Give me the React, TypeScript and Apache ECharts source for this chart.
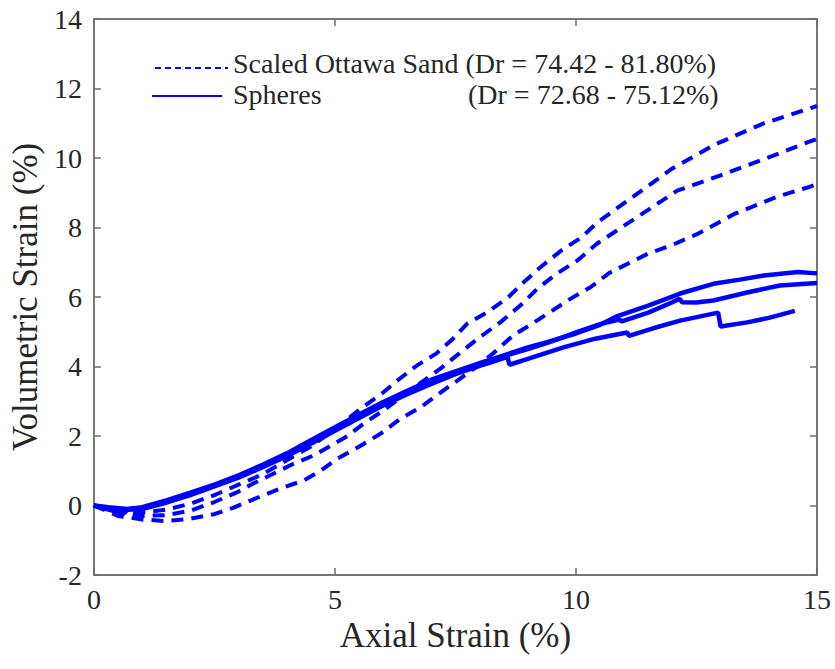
import React, { useEffect, useRef } from "react";
import * as echarts from "echarts";

const xTicks = [0, 5, 10, 15];
const yTicks = [-2, 0, 2, 4, 6, 8, 10, 12, 14];

const legendSand = "Scaled Ottawa Sand (Dr = 74.42 - 81.80%)";
const legendSpheres = "Spheres";
const legendSpheresDr = "(Dr = 72.68 - 75.12%)";

// Scaled Ottawa Sand (dashed)
const sand1: [number, number][] = [
  [0, 0], [0.5, -0.15], [1, -0.2], [1.5, -0.12], [2, 0.05], [2.5, 0.3], [3, 0.6], [3.5, 0.9],
  [4, 1.3], [4.5, 1.7], [5, 2.2], [5.5, 2.75], [6, 3.25], [6.3, 3.6], [6.7, 4.03], [7.1, 4.37],
  [7.45, 4.8], [7.75, 5.24], [8.15, 5.55], [8.6, 6.0], [8.95, 6.47], [9.3, 6.9], [9.7, 7.34],
  [10.1, 7.7], [10.45, 8.15], [11.2, 8.9], [12, 9.7], [12.9, 10.4], [13.9, 11.0], [14.9, 11.45], [15, 11.5],
];
const sand2: [number, number][] = [
  [0, 0], [0.5, -0.2], [1, -0.3], [1.5, -0.28], [2, -0.15], [2.5, 0.1], [3, 0.4], [3.3, 0.63],
  [3.73, 0.92], [4.14, 1.2], [4.56, 1.44], [5.26, 2.0], [5.6, 2.36], [6.0, 2.73], [6.8, 3.55],
  [7.2, 3.95], [7.6, 4.4], [8.0, 4.84], [8.43, 5.27], [8.85, 5.76], [9.2, 6.24], [9.6, 6.67],
  [10.03, 7.05], [10.44, 7.54], [11.27, 8.3], [12.1, 9.06], [13.0, 9.5], [13.96, 10.0], [14.9, 10.5], [15, 10.55],
];
const sand3: [number, number][] = [
  [0, 0], [0.5, -0.3], [1, -0.4], [1.5, -0.45], [2, -0.38], [2.5, -0.25], [2.9, -0.06], [3.4, 0.23],
  [3.87, 0.49], [4.35, 0.72], [4.7, 1.0], [5.05, 1.35], [5.47, 1.67], [5.95, 2.07], [6.36, 2.5],
  [6.77, 2.82], [7.19, 3.25], [7.9, 3.95], [8.3, 4.4], [8.7, 4.9], [9.1, 5.24], [9.5, 5.6],
  [9.9, 5.96], [10.3, 6.28], [10.7, 6.7], [11.5, 7.25], [12, 7.5], [12.5, 7.8], [13.3, 8.4],
  [14.2, 8.9], [14.8, 9.15], [15, 9.25],
];

// Spheres (solid)
const sphere1: [number, number][] = [
  [0, 0], [0.3, -0.05], [0.7, -0.1], [1, -0.05], [1.5, 0.15], [2, 0.37], [2.5, 0.6], [3, 0.87],
  [3.5, 1.17], [4, 1.5], [4.5, 1.88], [5, 2.25], [5.5, 2.62], [6, 2.98], [6.5, 3.3], [7, 3.62],
  [7.5, 3.86], [8, 4.1], [8.5, 4.32], [9, 4.55], [9.4, 4.7], [10, 4.95], [10.5, 5.2], [10.86, 5.45],
  [11.5, 5.75], [12.16, 6.1], [12.85, 6.38], [13.4, 6.5], [13.9, 6.62], [14.6, 6.72], [15, 6.68],
];
const sphere2: [number, number][] = [
  [0, 0], [0.5, -0.12], [1, -0.08], [1.5, 0.1], [2, 0.33], [2.5, 0.57], [3, 0.83], [3.5, 1.12],
  [4, 1.45], [4.5, 1.82], [5, 2.2], [5.5, 2.57], [6, 2.92], [6.5, 3.25], [7, 3.55], [7.5, 3.82],
  [8, 4.05], [8.5, 4.3], [9, 4.5], [9.5, 4.72], [10, 4.98], [10.5, 5.22], [10.9, 5.35], [10.95, 5.3],
  [11.5, 5.55], [12, 5.85], [12.15, 5.95], [12.2, 5.85], [12.5, 5.84], [12.85, 5.9], [13.55, 6.13],
  [14.23, 6.33], [15, 6.4],
];
const sphere3: [number, number][] = [
  [0, 0], [0.4, -0.15], [0.6, -0.25], [0.7, -0.12], [1, -0.1], [1.5, 0.08], [2, 0.3], [2.5, 0.55],
  [3, 0.8], [3.5, 1.1], [4, 1.42], [4.5, 1.78], [5, 2.15], [5.5, 2.52], [6, 2.88], [6.5, 3.2],
  [7, 3.5], [7.5, 3.78], [8, 4.02], [8.3, 4.15], [8.58, 4.28], [8.62, 4.05], [9, 4.22], [9.74, 4.55],
  [10.4, 4.8], [11.06, 4.98], [11.1, 4.88], [11.6, 5.1], [12.16, 5.32], [12.95, 5.55], [13.0, 5.15],
  [13.55, 5.27], [14, 5.4], [14.54, 5.6],
];

const sandSeries = [sand1, sand2, sand3];
const sphereSeries = [sphere1, sphere2, sphere3];

const BLUE = "#0000ff";
const AXIS_GREY = "#6e6e6e";
const TEXT = "#262626";
const FONT = "Liberation Serif";

export default function App() {
  const ref = useRef<HTMLDivElement>(null);

  useEffect(() => {
    if (!ref.current) return;
    const chart = echarts.init(ref.current, undefined, { renderer: "svg" });

    const series: any[] = [];
    sandSeries.forEach((d, i) => {
      const s: any = {
        name: "sand" + (i + 1),
        type: "line",
        data: d,
        showSymbol: false,
        lineStyle: { color: BLUE, width: 4, type: [12, 8] },
      };
      if (i === 0) {
        s.markLine = {
          silent: true,
          symbol: ["none", "none"],
          label: { show: false },
          lineStyle: { color: BLUE, width: 2, type: [6, 4] },
          data: [[{ x: 155, y: 68 }, { x: 228, y: 68 }]],
        };
      }
      series.push(s);
    });
    sphereSeries.forEach((d, i) => {
      const s: any = {
        name: "sphere" + (i + 1),
        type: "line",
        data: d,
        showSymbol: false,
        lineStyle: { color: BLUE, width: 4.5, type: "solid" },
      };
      if (i === 0) {
        s.markLine = {
          silent: true,
          symbol: ["none", "none"],
          label: { show: false },
          lineStyle: { color: BLUE, width: 2, type: "solid" },
          data: [[{ x: 152, y: 96 }, { x: 222, y: 96 }]],
        };
      }
      series.push(s);
    });

    const titleStyle = { fontFamily: FONT, fontSize: 28, fontWeight: "normal", color: TEXT, lineHeight: 28 };

    chart.setOption({
      animation: false,
      title: [
        { text: legendSand, left: 233, top: 49, padding: 0, textStyle: titleStyle },
        { text: legendSpheres, left: 233, top: 80, padding: 0, textStyle: titleStyle },
        { text: legendSpheresDr, left: 468, top: 80, padding: 0, textStyle: titleStyle },
      ],
      grid: { left: 93, right: 18, top: 19, bottom: 94, show: true, borderColor: AXIS_GREY, borderWidth: 1.5 },
      xAxis: [
        {
          type: "value", position: "bottom", min: xTicks[0], max: xTicks[xTicks.length - 1], interval: 5,
          name: "Axial Strain (%)", nameLocation: "middle", nameGap: 30,
          nameTextStyle: { fontFamily: FONT, fontSize: 35, color: TEXT },
          axisLine: { show: true, onZero: false, lineStyle: { color: AXIS_GREY, width: 1.5 } },
          axisTick: { inside: true, length: 7, lineStyle: { color: AXIS_GREY, width: 1.5 } },
          splitLine: { show: false },
          axisLabel: { fontFamily: FONT, fontSize: 28, color: TEXT, margin: 10 },
        },
        {
          type: "value", position: "top", min: xTicks[0], max: xTicks[xTicks.length - 1], interval: 5,
          axisLine: { show: true, onZero: false, lineStyle: { color: AXIS_GREY, width: 1.5 } },
          axisTick: { inside: true, length: 7, lineStyle: { color: AXIS_GREY, width: 1.5 } },
          splitLine: { show: false },
          axisLabel: { show: false },
        },
      ],
      yAxis: [
        {
          type: "value", position: "left", min: yTicks[0], max: yTicks[yTicks.length - 1], interval: 2,
          name: "Volumetric Strain (%)", nameLocation: "middle", nameGap: 48,
          nameTextStyle: { fontFamily: FONT, fontSize: 35, color: TEXT },
          axisLine: { show: true, onZero: false, lineStyle: { color: AXIS_GREY, width: 1.5 } },
          axisTick: { inside: true, length: 7, lineStyle: { color: AXIS_GREY, width: 1.5 } },
          splitLine: { show: false },
          axisLabel: { fontFamily: FONT, fontSize: 28, color: TEXT, margin: 12 },
        },
        {
          type: "value", position: "right", min: yTicks[0], max: yTicks[yTicks.length - 1], interval: 2,
          axisLine: { show: true, onZero: false, lineStyle: { color: AXIS_GREY, width: 1.5 } },
          axisTick: { inside: true, length: 7, lineStyle: { color: AXIS_GREY, width: 1.5 } },
          splitLine: { show: false },
          axisLabel: { show: false },
        },
      ],
      series,
    });

    return () => chart.dispose();
  }, []);

  return (
    <div
      ref={ref}
      style={{ position: "fixed", left: 0, top: 0, width: 835, height: 669, background: "#fff" }}
    />
  );
}
